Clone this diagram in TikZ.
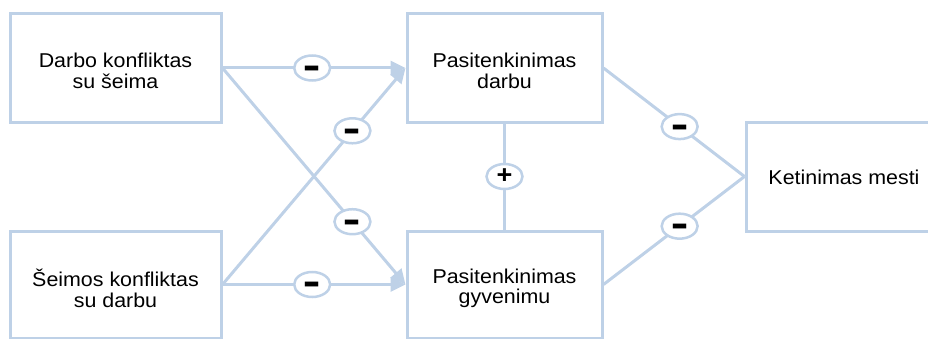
\documentclass[tikz,border=0pt]{standalone}
\usepackage{fontspec}
\setmainfont{Liberation Sans}[FakeStretch=1.07]
\usetikzlibrary{arrows.meta,shapes.geometric}
\definecolor{lb}{RGB}{190,209,231}
\newcommand{\minussign}{\smash{\raisebox{-0.61em}{\scalebox{1.15}[2.2]{–}}}}
\begin{document}
\begin{tikzpicture}[x=1pt,y=1pt,
  box/.style={draw=lb,line width=3pt,fill=white,inner sep=0pt},
  lbl/.style={align=center,inner sep=0pt,font=\fontsize{20}{20.5}\selectfont},
  conn/.style={draw=lb,line width=3pt},
  arr/.style={conn,-{Triangle[length=15pt,width=14pt]}},
  sign/.style={ellipse,draw=lb,line width=2.5pt,fill=white,minimum width=36pt,
    minimum height=25pt,inner sep=0pt,font=\fontsize{22}{22}\selectfont\bfseries}]
\useasboundingbox (0,0) rectangle (928,338);
\clip (0,0) rectangle (928,338);
\node[box,minimum width=211pt,minimum height=108pt] (A) at (115.5,270) {};
\node[box,minimum width=211pt,minimum height=107pt] (B) at (115.5,53.5) {};
\node[box,minimum width=195pt,minimum height=108pt] (C) at (504.5,270) {};
\node[box,minimum width=195pt,minimum height=107pt] (D) at (504.5,53.5) {};
\node[box,minimum width=196pt,minimum height=109pt] (E) at (844,161.5) {};
\node[lbl] (At) at ([yshift=-3pt]A.center) {Darbo konfliktas\\su šeima};
\node[lbl] (Bt) at ([yshift=-4pt]B.center) {Šeimos konfliktas\\su darbu};
\node[lbl] (Ct) at ([yshift=-3pt]C.center) {Pasitenkinimas\\darbu};
\node[lbl] (Dt) at ([yshift=-4pt]D.center) {Pasitenkinimas\\gyvenimu};
\node[lbl] (Et) at ([yshift=-1pt]E.center) {Ketinimas mesti};
\draw[arr] (A.east) -- (C.west) node[sign,pos=0.49] (s1) {\minussign};
\draw[arr] (B.east) -- (D.west) node[sign,pos=0.49] (s2) {\minussign};
\draw[arr] (B.east) -- (C.west) node[sign,pos=0.71] (s3) {\minussign};
\draw[arr] (A.east) -- (D.west) node[sign,pos=0.71] (s4) {\minussign};
\draw[conn] (C.south) -- (D.north) node[sign,pos=0.5] (s5) {\scalebox{1.15}{+}};
\draw[conn] (C.east) -- (E.west) node[sign,pos=0.54] (s6) {\minussign};
\draw[conn] (D.east) -- (E.west) node[sign,pos=0.54] (s7) {\minussign};
\end{tikzpicture}
\end{document}
